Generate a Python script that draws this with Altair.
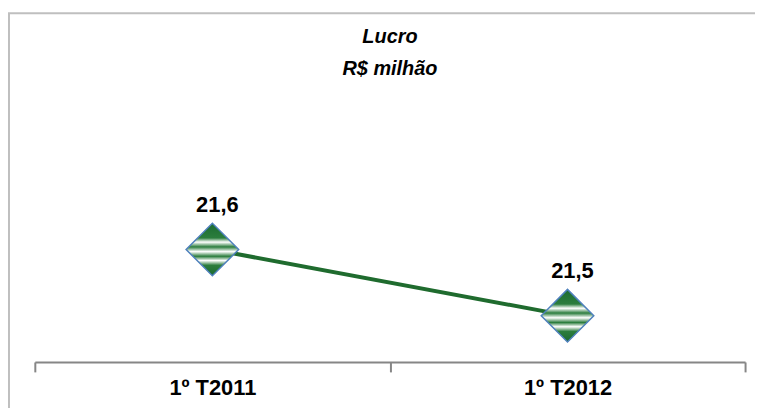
import altair as alt
import pandas as pd

categories = ["1º T2011", "1º T2012"]
values = [21.6, 21.5]
labels = ["21,6", "21,5"]

df = pd.DataFrame({"periodo": categories, "lucro": values, "rotulo": labels})

FONT = "Liberation Sans"
GREEN = "#1f6b2e"

x_enc = alt.X(
    "periodo:N",
    sort=categories,
    scale=alt.Scale(type="band", paddingInner=0, paddingOuter=0),
    axis=alt.Axis(
        title=None,
        labelAngle=0,
        tickBand="extent",
        tickSize=10,
        tickWidth=2,
        tickColor="#868686",
        domainColor="#868686",
        domainWidth=2,
        labelFont=FONT,
        labelFontSize=22,
        labelFontWeight="bold",
        labelColor="#000000",
        labelPadding=6,
        grid=False,
    ),
)
y_enc = alt.Y(
    "lucro:Q",
    scale=alt.Scale(domain=[21.43, 21.93], zero=False, nice=False),
    axis=None,
)

line = alt.Chart(df).mark_line(color=GREEN, strokeWidth=4).encode(x=x_enc, y=y_enc)

grad = alt.Gradient(
    gradient="linear",
    x1=0, y1=0, x2=0, y2=1,
    stops=[
        alt.GradientStop(offset=0.0, color="#1b6a30"),
        alt.GradientStop(offset=0.28, color="#2b7d3d"),
        alt.GradientStop(offset=0.36, color="#ffffff"),
        alt.GradientStop(offset=0.45, color="#2b7d3d"),
        alt.GradientStop(offset=0.54, color="#ffffff"),
        alt.GradientStop(offset=0.63, color="#2b7d3d"),
        alt.GradientStop(offset=0.71, color="#ffffff"),
        alt.GradientStop(offset=0.80, color="#2b7d3d"),
        alt.GradientStop(offset=1.0, color="#1b6a30"),
    ],
)

points = alt.Chart(df).mark_point(
    shape="diamond",
    size=2800,
    filled=True,
    fill=grad,
    fillOpacity=1,
    opacity=1,
    stroke="#4f81bd",
    strokeWidth=1.5,
).encode(x=x_enc, y=y_enc)

text = alt.Chart(df).mark_text(
    font=FONT,
    fontSize=22,
    fontWeight="bold",
    color="#000000",
    dy=-45,
    dx=5,
    baseline="middle",
).encode(x=x_enc, y=y_enc, text="rotulo:N")

border_df = pd.DataFrame({"k": [0]})
border_left = alt.Chart(border_df).mark_rule(color="#bfbfbf", strokeWidth=2).encode(
    x=alt.value(-26), y=alt.value(-18), y2=alt.value(400)
)
border_top = alt.Chart(border_df).mark_rule(color="#bfbfbf", strokeWidth=2).encode(
    x=alt.value(-27), x2=alt.value(760), y=alt.value(-18)
)

chart = (
    alt.layer(border_left, border_top, line, points, text)
    .properties(
        width=715,
        height=333,
        autosize=alt.AutoSizeParams(type="none"),
        padding={"left": 27, "top": 22, "right": 10, "bottom": 45},
        title=alt.TitleParams(
            text=["Lucro", "R$ milhão"],
            font=FONT,
            fontSize=20,
            fontStyle="italic",
            fontWeight="bold",
            color="#000000",
            anchor="middle",
            lineHeight=32,
            offset=-83,
            baseline="alphabetic",
        ),
    )
    .configure_view(stroke=None)
)

chart.save("out.html", embed_options={"renderer": "svg", "actions": False})
